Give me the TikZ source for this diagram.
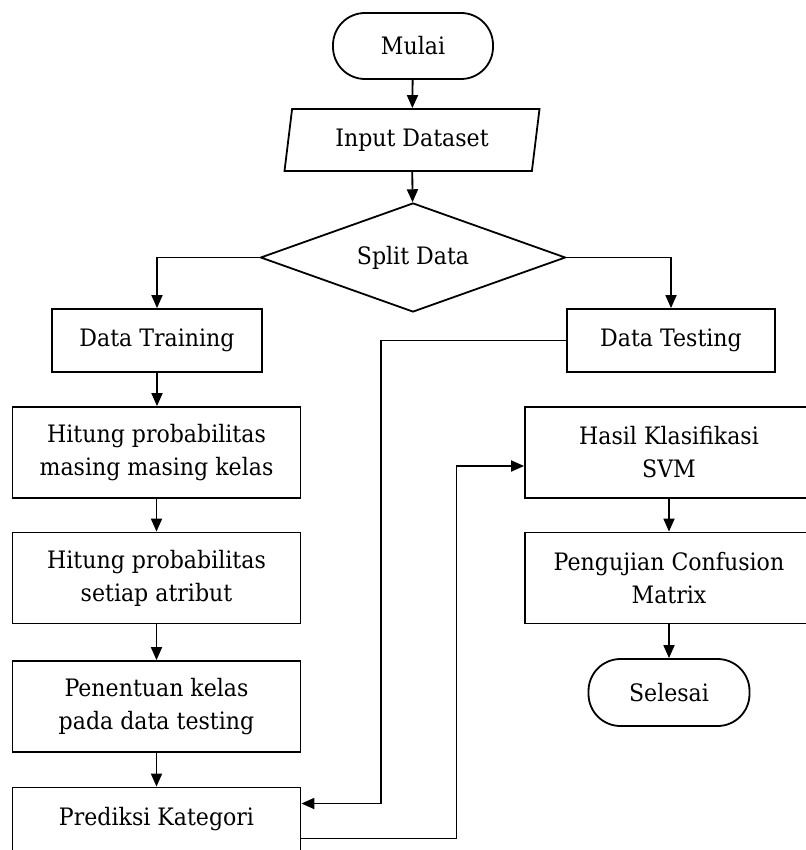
\documentclass[tikz,border=0pt]{standalone}
\usepackage{fontspec}
\setmainfont{DejaVu Serif}[FakeStretch=0.92]
\usetikzlibrary{shapes.geometric,arrows.meta}

\begin{document}
\begin{tikzpicture}[x=0.5pt,y=-0.5pt,
        font=\fontsize{12}{16.5}\selectfont,line width=0.9pt,
        >={Triangle[length=6.5pt,width=5.5pt]},
        every node/.style={draw,align=center,inner sep=2pt},
        terminal/.style={rectangle,rounded corners=16pt,minimum width=80pt,minimum height=33pt},
        io/.style={trapezium,trapezium left angle=76,trapezium right angle=104,
            trapezium stretches body,minimum width=127.5pt,minimum height=31pt},
        decision/.style={diamond,inner sep=0pt,minimum width=152.5pt,minimum height=54.5pt},
        proc/.style={rectangle,minimum width=144pt,minimum height=45.5pt}]

    \useasboundingbox (0,0) rectangle (806,850);

    \node[terminal]  (mulai)   at (413,46)    {Mulai};
    \node[io]        (input)   at (412,140)   {Input Dataset};
    \node[decision]  (split)   at (413,257.5) {\makebox[0pt]{Split Data}};
    \node[proc,minimum width=105pt,minimum height=31.5pt] (train) at (157,340.5) {Data Training};
    \node[proc,minimum width=104pt,minimum height=31.5pt] (test)  at (671,340.5) {Data Testing};
    \node[proc]      (hitung1) at (156.5,452.5) {Hitung probabilitas\\masing masing kelas};
    \node[proc]      (hitung2) at (156.5,578)   {Hitung probabilitas\\setiap atribut};
    \node[proc]      (tentu)   at (156.5,706.5) {Penentuan kelas\\pada data testing};
    \node[proc,minimum height=32pt] (pred) at (156.5,819.5) {Prediksi Kategori};
    \node[proc]      (hasil)   at (669,452.5) {Hasil Klasifikasi\\SVM};
    \node[proc]      (uji)     at (669,578)   {Pengujian Confusion\\Matrix};
    \node[terminal,minimum width=80.5pt,minimum height=33.5pt] (selesai) at (669,692.5) {Selesai};

    \draw[->] (mulai) -- (input);
    \draw[->] (input) -- (split);
    \draw[->] (split.west) -| (train.north);
    \draw[->] (split.east) -| (test.north);
    \draw[->] (train) -- (train |- hitung1.north);
    \draw[->] (hitung1) -- (hitung2);
    \draw[->] (hitung2) -- (tentu);
    \draw[->] (tentu) -- (pred);
    \draw[->] (test.west) -- ++(-185,0) |- ([yshift=8pt]pred.east);
    \draw[->] ([yshift=-9.5pt]pred.east) -- ++(155,0) |- ([yshift=-6.75pt]hasil.west);
    \draw[->] (hasil) -- (uji);
    \draw[->] (uji) -- (selesai);
\end{tikzpicture}
\end{document}
